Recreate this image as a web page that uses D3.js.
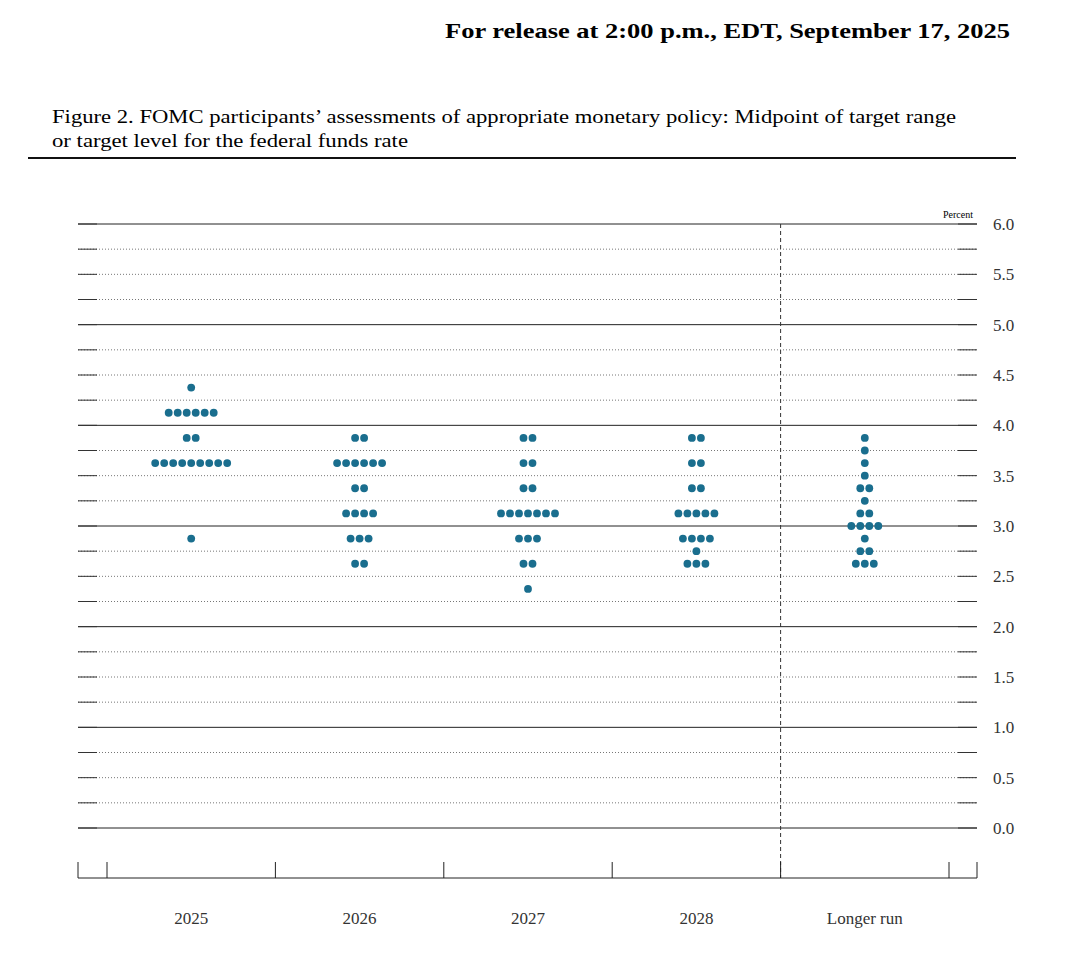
<!DOCTYPE html>
<html><head><meta charset="utf-8">
<script src="https://cdn.jsdelivr.net/npm/d3@7"></script>
<style>body{margin:0;background:#fff}</style>
</head><body>
<svg id="c" width="1080" height="968"></svg>
<script>
// Categories and participant projections (midpoint, count)
var years = ["2025", "2026", "2027", "2028", "Longer run"];
var dots2025 = [[4.375,1],[4.125,6],[3.875,2],[3.625,9],[2.875,1]];
var dots2026 = [[3.875,2],[3.625,6],[3.375,2],[3.125,4],[2.875,3],[2.625,2]];
var dots2027 = [[3.875,2],[3.625,2],[3.375,2],[3.125,7],[2.875,3],[2.625,2],[2.375,1]];
var dots2028 = [[3.875,2],[3.625,2],[3.375,2],[3.125,5],[2.875,4],[2.75,1],[2.625,3]];
var dotsLR = [[3.875,1],[3.75,1],[3.625,1],[3.5,1],[3.375,2],[3.25,1],[3.125,2],[3.0,4],[2.875,1],[2.75,2],[2.625,3]];
var allDots = [dots2025, dots2026, dots2027, dots2028, dotsLR];
var yTicks = [0,0.5,1,1.5,2,2.5,3,3.5,4,4.5,5,5.5,6];

var svg = d3.select('#c');
var font = '"Liberation Serif", serif';
var left = 78, right = 977;

var y = d3.scaleLinear().domain([0, 6]).range([828, 224]);
var x = d3.scaleBand().domain(years).range([107, 949]);

svg.append('text').attr('x', 445).attr('y', 38).attr('textLength', 565).attr('lengthAdjust', 'spacingAndGlyphs')
	.attr('font-family', font).attr('font-weight', 'bold').attr('font-size', 21)
	.text('For release at 2:00 p.m., EDT, September 17, 2025');
svg.append('text').attr('x', 52).attr('y', 123).attr('textLength', 904).attr('lengthAdjust', 'spacingAndGlyphs')
	.attr('font-family', font).attr('font-size', 19)
	.text('Figure 2. FOMC participants\u2019 assessments of appropriate monetary policy: Midpoint of target range');
svg.append('text').attr('x', 52).attr('y', 147).attr('textLength', 356).attr('lengthAdjust', 'spacingAndGlyphs')
	.attr('font-family', font).attr('font-size', 19)
	.text('or target level for the federal funds rate');
svg.append('line').attr('x1', 28).attr('x2', 1016).attr('y1', 158).attr('y2', 158)
	.attr('stroke', '#111').attr('stroke-width', 2);

// Gridlines every 0.25
var grid = d3.range(0, 24.5).map(function(i) { return i * 0.25; });
grid.forEach(function(v) {
	var major = v % 1 === 0;
	svg.append('line').attr('x1', left).attr('x2', right).attr('y1', y(v)).attr('y2', y(v))
		.attr('stroke', major ? '#222' : '#777').attr('stroke-width', 1)
		.attr('stroke-dasharray', major ? null : '1,2');
	[[left, left + 19], [right - 19, right]].forEach(function(s) {
		svg.append('line').attr('x1', s[0]).attr('x2', s[1]).attr('y1', y(v)).attr('y2', y(v))
			.attr('stroke', '#333').attr('stroke-width', 1);
	});
});

var yAxis = svg.append('g').attr('transform', 'translate(' + right + ',0)')
	.call(d3.axisRight(y).tickValues(yTicks).tickSize(0).tickPadding(16).tickFormat(d3.format('.1f')));
yAxis.select('.domain').remove();
yAxis.selectAll('text').attr('font-family', font).attr('font-size', 17).attr('fill', '#333');
svg.append('text').attr('x', 973).attr('y', y(6) - 6).attr('text-anchor', 'end')
	.attr('font-family', font).attr('font-size', 10).text('Percent');

// Dashed divider before Longer run
svg.append('line').attr('x1', x('Longer run')).attr('x2', x('Longer run')).attr('y1', y(6)).attr('y2', 878)
	.attr('stroke', '#333').attr('stroke-dasharray', '4,3');

// Bottom axis
svg.append('line').attr('x1', left).attr('x2', right).attr('y1', 878).attr('y2', 878).attr('stroke', '#222');
var bt = [left, right].concat(years.map(function(d) { return x(d); })).concat([x.range()[1]]);
bt.forEach(function(t) {
	svg.append('line').attr('x1', t).attr('x2', t).attr('y1', 862).attr('y2', 878).attr('stroke', '#222');
});
years.forEach(function(d) {
	svg.append('text').attr('x', x(d) + x.bandwidth() / 2).attr('y', 924).attr('text-anchor', 'middle')
		.attr('font-family', font).attr('font-size', 17).attr('fill', '#333').text(d);
});

// Dots
var pts = [];
allDots.forEach(function(col, i) {
	var cx = x(years[i]) + x.bandwidth() / 2;
	col.forEach(function(r) {
		for (var k = 0; k < r[1]; k++) {
			pts.push({ x: cx + (k - (r[1] - 1) / 2) * 9, v: r[0] });
		}
	});
});
svg.selectAll('circle.dot').data(pts).enter().append('circle').attr('class', 'dot')
	.attr('cx', function(d) { return d.x; }).attr('cy', function(d) { return y(d.v); })
	.attr('r', 3.9).attr('fill', '#1a6e8e');
</script>
</body></html>
